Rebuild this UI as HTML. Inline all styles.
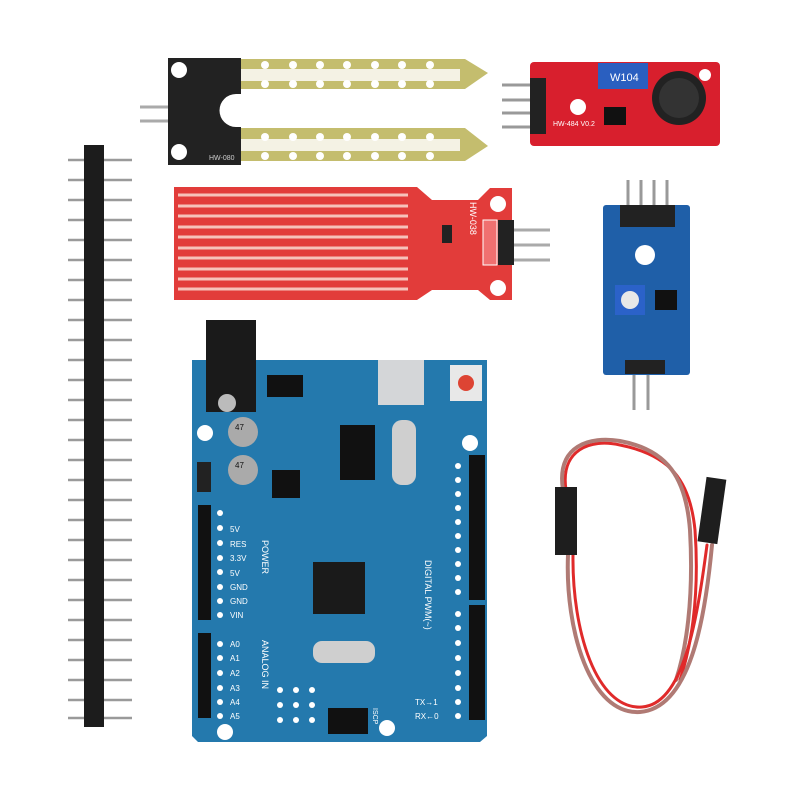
<!DOCTYPE html>
<html><head><meta charset="utf-8"><style>
html,body{margin:0;padding:0;background:#fff;}
body{width:800px;height:800px;overflow:hidden;font-family:"Liberation Sans",sans-serif;}
</style></head><body>
<svg width="800" height="800" viewBox="0 0 800 800" xmlns="http://www.w3.org/2000/svg">
<rect width="800" height="800" fill="#fff"/>
<!-- pin header -->
<g stroke="#9a9a9a" stroke-width="2.5">
<line x1="68" y1="160" x2="132" y2="160"/><line x1="68" y1="180" x2="132" y2="180"/><line x1="68" y1="200" x2="132" y2="200"/><line x1="68" y1="220" x2="132" y2="220"/><line x1="68" y1="240" x2="132" y2="240"/><line x1="68" y1="260" x2="132" y2="260"/><line x1="68" y1="280" x2="132" y2="280"/><line x1="68" y1="300" x2="132" y2="300"/><line x1="68" y1="320" x2="132" y2="320"/><line x1="68" y1="340" x2="132" y2="340"/><line x1="68" y1="360" x2="132" y2="360"/><line x1="68" y1="380" x2="132" y2="380"/><line x1="68" y1="400" x2="132" y2="400"/><line x1="68" y1="420" x2="132" y2="420"/><line x1="68" y1="440" x2="132" y2="440"/><line x1="68" y1="460" x2="132" y2="460"/><line x1="68" y1="480" x2="132" y2="480"/><line x1="68" y1="500" x2="132" y2="500"/><line x1="68" y1="520" x2="132" y2="520"/><line x1="68" y1="540" x2="132" y2="540"/><line x1="68" y1="560" x2="132" y2="560"/><line x1="68" y1="580" x2="132" y2="580"/><line x1="68" y1="600" x2="132" y2="600"/><line x1="68" y1="620" x2="132" y2="620"/><line x1="68" y1="640" x2="132" y2="640"/><line x1="68" y1="660" x2="132" y2="660"/><line x1="68" y1="680" x2="132" y2="680"/><line x1="68" y1="700" x2="132" y2="700"/><line x1="68" y1="718" x2="132" y2="718"/>
</g>
<rect x="84" y="145" width="20" height="582" fill="#1c1c1c"/>
<!-- soil sensor -->
<g>
<line x1="140" y1="107" x2="178" y2="107" stroke="#aaa" stroke-width="3"/>
<line x1="140" y1="121" x2="178" y2="121" stroke="#aaa" stroke-width="3"/>
<path d="M238 59 H465 L488 73 L465 89 H238 Z" fill="#c4bd6e"/>
<path d="M238 128 H465 L488 146 L465 161 H238 Z" fill="#c4bd6e"/>
<rect x="240" y="69" width="220" height="12" fill="#f4f2e4"/>
<rect x="240" y="139" width="220" height="12" fill="#f4f2e4"/>
<g fill="#fff">
<circle cx="265" cy="65" r="4"/><circle cx="293" cy="65" r="4"/><circle cx="320" cy="65" r="4"/><circle cx="347" cy="65" r="4"/><circle cx="375" cy="65" r="4"/><circle cx="402" cy="65" r="4"/><circle cx="430" cy="65" r="4"/>
<circle cx="265" cy="84" r="4"/><circle cx="293" cy="84" r="4"/><circle cx="320" cy="84" r="4"/><circle cx="347" cy="84" r="4"/><circle cx="375" cy="84" r="4"/><circle cx="402" cy="84" r="4"/><circle cx="430" cy="84" r="4"/>
<circle cx="265" cy="137" r="4"/><circle cx="293" cy="137" r="4"/><circle cx="320" cy="137" r="4"/><circle cx="347" cy="137" r="4"/><circle cx="375" cy="137" r="4"/><circle cx="402" cy="137" r="4"/><circle cx="430" cy="137" r="4"/>
<circle cx="265" cy="156" r="4"/><circle cx="293" cy="156" r="4"/><circle cx="320" cy="156" r="4"/><circle cx="347" cy="156" r="4"/><circle cx="375" cy="156" r="4"/><circle cx="402" cy="156" r="4"/><circle cx="430" cy="156" r="4"/>
</g>
<path d="M168 58 H241 V94 H236 A15 15 0 0 0 236 127 H241 V165 H168 Z" fill="#222"/>
<circle cx="179" cy="70" r="8" fill="#fff"/><circle cx="179" cy="152" r="8" fill="#fff"/>
<text x="209" y="160" font-size="7" fill="#ccc">HW-080</text>
</g>
<!-- sound sensor -->
<g>
<line x1="502" y1="85" x2="532" y2="85" stroke="#999" stroke-width="3"/><line x1="502" y1="100" x2="532" y2="100" stroke="#999" stroke-width="3"/><line x1="502" y1="113" x2="532" y2="113" stroke="#999" stroke-width="3"/><line x1="502" y1="127" x2="532" y2="127" stroke="#999" stroke-width="3"/>
<rect x="530" y="62" width="190" height="84" rx="4" fill="#d81f2d"/>
<rect x="530" y="78" width="16" height="56" fill="#222"/>
<circle cx="578" cy="107" r="8" fill="#fff"/><circle cx="705" cy="75" r="6" fill="#fff"/>
<rect x="598" y="63" width="50" height="26" fill="#2a5fc0"/>
<text x="610" y="81" font-size="11" fill="#fff">W104</text>
<circle cx="679" cy="98" r="27" fill="#222"/>
<circle cx="679" cy="98" r="20" fill="#333"/>
<rect x="604" y="107" width="22" height="18" fill="#111"/>
<text x="553" y="126" font-size="7" fill="#fff">HW-484 V0.2</text>
</g>
<!-- water sensor -->
<g>
<line x1="510" y1="230" x2="550" y2="230" stroke="#aaa" stroke-width="3"/><line x1="510" y1="245" x2="550" y2="245" stroke="#aaa" stroke-width="3"/><line x1="510" y1="260" x2="550" y2="260" stroke="#aaa" stroke-width="3"/>
<path d="M174 187 H417 L432 200 H478 L490 188 H512 V300 H490 L478 290 H432 L417 300 H174 Z" fill="#e23c3a"/>
<g stroke="#f6c2ba" stroke-width="3">
<line x1="178" y1="195" x2="408" y2="195"/><line x1="178" y1="206" x2="408" y2="206"/><line x1="178" y1="216" x2="408" y2="216"/><line x1="178" y1="227" x2="408" y2="227"/><line x1="178" y1="237" x2="408" y2="237"/><line x1="178" y1="248" x2="408" y2="248"/><line x1="178" y1="258" x2="408" y2="258"/><line x1="178" y1="269" x2="408" y2="269"/><line x1="178" y1="279" x2="408" y2="279"/><line x1="178" y1="289" x2="408" y2="289"/>
</g>
<circle cx="498" cy="204" r="8" fill="#fff"/><circle cx="498" cy="288" r="8" fill="#fff"/>
<rect x="498" y="220" width="16" height="45" fill="#222"/>
<rect x="483" y="220" width="14" height="45" fill="#f07070" stroke="#fff" stroke-width="1"/>
<rect x="442" y="225" width="10" height="18" fill="#222"/>
<text x="470" y="202" font-size="9" fill="#fff" transform="rotate(90 470 202)">HW-038</text>
</g>
<!-- blue module -->
<g>
<line x1="628" y1="180" x2="628" y2="210" stroke="#999" stroke-width="3"/><line x1="641" y1="180" x2="641" y2="210" stroke="#999" stroke-width="3"/><line x1="654" y1="180" x2="654" y2="210" stroke="#999" stroke-width="3"/><line x1="667" y1="180" x2="667" y2="210" stroke="#999" stroke-width="3"/>
<line x1="634" y1="370" x2="634" y2="410" stroke="#999" stroke-width="3"/><line x1="648" y1="370" x2="648" y2="410" stroke="#999" stroke-width="3"/>
<rect x="603" y="205" width="87" height="170" rx="3" fill="#1f5fa8"/>
<rect x="620" y="205" width="55" height="22" fill="#222"/>
<circle cx="645" cy="255" r="10" fill="#fff"/>
<rect x="615" y="285" width="30" height="30" fill="#2b62c9"/>
<circle cx="630" cy="300" r="9" fill="#e8e8e8"/>
<rect x="655" y="290" width="22" height="20" fill="#111"/>
<rect x="625" y="360" width="40" height="14" fill="#222"/>
</g>
<!-- arduino -->
<g>
<path d="M192 360 H487 V736 L480 742 H198 L192 736 Z" fill="#2479ad"/>
<rect x="206" y="320" width="50" height="92" fill="#1a1a1a"/>
<circle cx="227" cy="403" r="9" fill="#bbb"/>
<circle cx="205" cy="433" r="8" fill="#fff"/><circle cx="470" cy="443" r="8" fill="#fff"/><circle cx="225" cy="732" r="8" fill="#fff"/><circle cx="387" cy="728" r="8" fill="#fff"/>
<rect x="267" y="375" width="36" height="22" fill="#111"/>
<rect x="378" y="360" width="46" height="45" fill="#d4d6d8"/>
<rect x="450" y="365" width="32" height="36" fill="#e8e8e8"/><circle cx="466" cy="383" r="8" fill="#d43"/>
<circle cx="243" cy="432" r="15" fill="#aaa"/><circle cx="243" cy="470" r="15" fill="#aaa"/>
<text x="235" y="430" font-size="8" fill="#111">47</text><text x="235" y="468" font-size="8" fill="#111">47</text>
<rect x="197" y="462" width="14" height="30" fill="#222"/>
<rect x="272" y="470" width="28" height="28" fill="#111"/>
<rect x="340" y="425" width="35" height="55" fill="#111"/>
<rect x="392" y="420" width="24" height="65" fill="#cfcfcf" rx="10"/>
<rect x="198" y="505" width="13" height="115" fill="#111"/>
<rect x="198" y="633" width="13" height="85" fill="#111"/>
<rect x="469" y="455" width="16" height="145" fill="#111"/>
<rect x="469" y="605" width="16" height="115" fill="#111"/>
<g fill="#fff"><circle cx="220" cy="513" r="3"/><circle cx="220" cy="528" r="3"/><circle cx="220" cy="543" r="3"/><circle cx="220" cy="558" r="3"/><circle cx="220" cy="572" r="3"/><circle cx="220" cy="587" r="3"/><circle cx="220" cy="601" r="3"/><circle cx="220" cy="615" r="3"/>
<circle cx="220" cy="644" r="3"/><circle cx="220" cy="658" r="3"/><circle cx="220" cy="673" r="3"/><circle cx="220" cy="688" r="3"/><circle cx="220" cy="702" r="3"/><circle cx="220" cy="716" r="3"/>
<circle cx="458" cy="466" r="3"/><circle cx="458" cy="480" r="3"/><circle cx="458" cy="494" r="3"/><circle cx="458" cy="508" r="3"/><circle cx="458" cy="522" r="3"/><circle cx="458" cy="536" r="3"/><circle cx="458" cy="550" r="3"/><circle cx="458" cy="564" r="3"/><circle cx="458" cy="578" r="3"/><circle cx="458" cy="592" r="3"/>
<circle cx="458" cy="614" r="3"/><circle cx="458" cy="628" r="3"/><circle cx="458" cy="643" r="3"/><circle cx="458" cy="658" r="3"/><circle cx="458" cy="673" r="3"/><circle cx="458" cy="688" r="3"/><circle cx="458" cy="702" r="3"/><circle cx="458" cy="716" r="3"/>
<circle cx="280" cy="690" r="3"/><circle cx="296" cy="690" r="3"/><circle cx="312" cy="690" r="3"/><circle cx="280" cy="705" r="3"/><circle cx="296" cy="705" r="3"/><circle cx="312" cy="705" r="3"/><circle cx="280" cy="720" r="3"/><circle cx="296" cy="720" r="3"/><circle cx="312" cy="720" r="3"/></g>
<rect x="313" y="562" width="52" height="52" fill="#1a1a1a"/>
<rect x="313" y="641" width="62" height="22" fill="#cfcfcf" rx="9"/>
<rect x="328" y="708" width="40" height="26" fill="#111"/>
<text x="230" y="532" font-size="8" fill="#fff">5V</text>
<text x="230" y="547" font-size="8" fill="#fff">RES</text>
<text x="230" y="561" font-size="8" fill="#fff">3.3V</text>
<text x="230" y="576" font-size="8" fill="#fff">5V</text>
<text x="230" y="590" font-size="8" fill="#fff">GND</text>
<text x="230" y="604" font-size="8" fill="#fff">GND</text>
<text x="230" y="618" font-size="8" fill="#fff">VIN</text>
<text x="230" y="647" font-size="8" fill="#fff">A0</text>
<text x="230" y="661" font-size="8" fill="#fff">A1</text>
<text x="230" y="676" font-size="8" fill="#fff">A2</text>
<text x="230" y="691" font-size="8" fill="#fff">A3</text>
<text x="230" y="705" font-size="8" fill="#fff">A4</text>
<text x="230" y="719" font-size="8" fill="#fff">A5</text>
<text x="415" y="705" font-size="8" fill="#fff">TX→1</text>
<text x="415" y="719" font-size="8" fill="#fff">RX←0</text>
<text x="262" y="540" font-size="9" fill="#fff" transform="rotate(90 262 540)">POWER</text>
<text x="262" y="640" font-size="9" fill="#fff" transform="rotate(90 262 640)">ANALOG IN</text>
<text x="425" y="560" font-size="9" fill="#fff" transform="rotate(90 425 560)">DIGITAL PWM(~)</text>
<text x="373" y="708" font-size="7" fill="#fff" transform="rotate(90 373 708)">ISCP</text>
</g>
<!-- cable -->
<g fill="none" stroke-linecap="round">
<path d="M566 490 C560 450 590 438 620 445 C670 455 690 480 695 530 C700 600 690 650 680 680" stroke="#e02a2a" stroke-width="3"/>
<path d="M563 490 C556 445 590 436 620 441 C668 450 686 478 690 530 C694 600 686 650 676 680" stroke="#b07a74" stroke-width="4"/>
<path d="M568 555 C565 630 590 715 640 712 C690 708 705 620 712 545" stroke="#b07a74" stroke-width="4"/>
<path d="M573 555 C572 630 596 710 642 707 C684 704 697 620 707 545" stroke="#e02a2a" stroke-width="3"/>
<rect x="555" y="487" width="22" height="68" fill="#1e1e1e" stroke="none"/>
<rect x="702" y="478" width="20" height="65" fill="#1e1e1e" stroke="none" transform="rotate(8 712 510)"/>
</g>
</svg>
</body></html>
